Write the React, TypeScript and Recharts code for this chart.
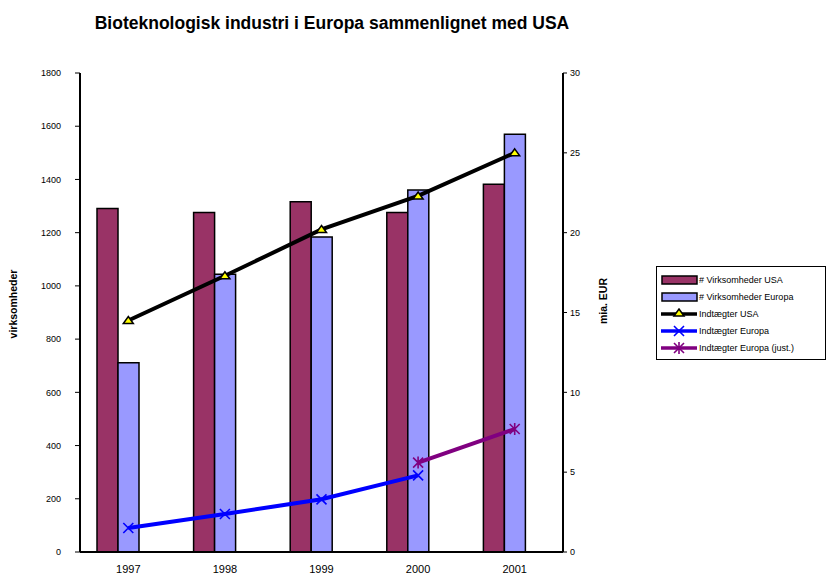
import React from "react";
import {
  ComposedChart,
  Bar,
  Line,
  XAxis,
  YAxis,
  Legend,
} from "recharts";

const years = ["1997", "1998", "1999", "2000", "2001"];
const firmsUSA = [1291, 1276, 1316, 1276, 1382];
const firmsEurope = [711, 1044, 1184, 1360, 1570];
const revenueUSA = [14.5, 17.3, 20.2, 22.3, 25.0];
const revenueEurope = [1.5, 2.38, 3.3, 4.8, null];
const revenueEuropeAdj = [null, null, null, 5.6, 7.7];

const leftTicks = [0, 200, 400, 600, 800, 1000, 1200, 1400, 1600, 1800];
const rightTicks = [0, 5, 10, 15, 20, 25, 30];
const boundaryTicks = [0, 1, 2, 3, 4, 5];

const data = years.map((year, i) => ({
  year,
  firmsUSA: firmsUSA[i],
  firmsEurope: firmsEurope[i],
  empty: null,
  revenueUSA: revenueUSA[i],
  revenueEurope: revenueEurope[i],
  revenueEuropeAdj: revenueEuropeAdj[i],
}));

const FONT = "'Liberation Sans', Arial, sans-serif";
const MAROON = "#993366";
const LILAC = "#9999ff";
const BLUE = "#0000ff";
const PURPLE = "#800080";

const legendItems = [
  { label: "# Virksomheder USA", kind: "bar", color: MAROON },
  { label: "# Virksomheder Europa", kind: "bar", color: LILAC },
  { label: "Indtægter USA", kind: "triangle", color: "#000000" },
  { label: "Indtægter Europa", kind: "cross", color: BLUE },
  { label: "Indtægter Europa (just.)", kind: "star", color: PURPLE },
];

function Triangle(props: any) {
  const { cx, cy } = props;
  if (cx == null || cy == null) return null;
  return (
    <path
      d={`M${cx},${cy - 4} L${cx + 5},${cy + 3} L${cx - 5},${cy + 3} Z`}
      fill="#ffff00"
      stroke="#000"
      strokeWidth={1.5}
    />
  );
}

function Cross(props: any) {
  const { cx, cy, color } = props;
  if (cx == null || cy == null) return null;
  const s = 5;
  return (
    <path
      d={`M${cx - s},${cy - s} L${cx + s},${cy + s} M${cx - s},${cy + s} L${cx + s},${cy - s}`}
      stroke={color}
      strokeWidth={1.6}
      fill="none"
    />
  );
}

function Star(props: any) {
  const { cx, cy, color } = props;
  if (cx == null || cy == null) return null;
  const s = 5;
  return (
    <path
      d={`M${cx - s},${cy - s} L${cx + s},${cy + s} M${cx - s},${cy + s} L${cx + s},${cy - s} M${cx},${cy - s - 1} L${cx},${cy + s + 1}`}
      stroke={color}
      strokeWidth={1.6}
      fill="none"
    />
  );
}

function LegendBox() {
  return (
    <div
      style={{
        width: 170,
        border: "1px solid #000",
        background: "#fff",
        fontFamily: FONT,
        fontSize: 9,
        padding: "4px 0 3px 4px",
        boxSizing: "border-box",
      }}
    >
      {legendItems.map((item) => (
        <div
          key={item.label}
          style={{ display: "flex", alignItems: "center", height: 17 }}
        >
          <svg width={38} height={12} style={{ flex: "none" }}>
            {item.kind === "bar" ? (
              <rect
                x={1}
                y={2}
                width={35}
                height={8}
                fill={item.color}
                stroke="#000"
                strokeWidth={1.5}
              />
            ) : (
              <>
                <line
                  x1={0}
                  y1={6}
                  x2={36}
                  y2={6}
                  stroke={item.color}
                  strokeWidth={3.5}
                />
                {item.kind === "triangle" && <Triangle cx={18} cy={5} />}
                {item.kind === "cross" && (
                  <Cross cx={18} cy={6} color={item.color} />
                )}
                {item.kind === "star" && (
                  <Star cx={18} cy={6} color={item.color} />
                )}
              </>
            )}
          </svg>
          <span style={{ whiteSpace: "nowrap" }}>{item.label}</span>
        </div>
      ))}
    </div>
  );
}

const tickStyle = { fontSize: 9, fill: "#000", fontFamily: FONT };

export default function App() {
  return (
    <div
      style={{
        position: "absolute",
        left: 0,
        top: 0,
        width: 829,
        height: 574,
        background: "#fff",
        overflow: "hidden",
        fontFamily: FONT,
      }}
    >
      <div
        style={{
          position: "absolute",
          left: 0,
          width: 664,
          top: 13,
          textAlign: "center",
          fontWeight: "bold",
          fontSize: 17.5,
        }}
      >
        Bioteknologisk industri i Europa sammenlignet med USA
      </div>
      <ComposedChart
        width={829}
        height={574}
        data={data}
        margin={{ top: 73, right: 56, bottom: 0, left: 40 }}
        barGap={0}
        barCategoryGap={17}
      >
        <XAxis
          xAxisId="top"
          orientation="top"
          dataKey="year"
          height={0}
          tick={false}
          tickLine={false}
          axisLine={{ stroke: "#000", strokeWidth: 2 }}
        />
        <XAxis
          dataKey="year"
          height={22}
          tickLine={false}
          tickMargin={7}
          axisLine={{ stroke: "#000", strokeWidth: 2 }}
          tick={{ ...tickStyle, fontSize: 11 }}
        />
        <XAxis
          xAxisId="bounds"
          type="number"
          domain={[0, 5]}
          ticks={boundaryTicks}
          height={0}
          tick={false}
          tickSize={5}
          axisLine={false}
          tickLine={{ stroke: "#000", strokeWidth: 1 }}
        />
        <YAxis
          yAxisId="left"
          domain={[0, 1800]}
          ticks={leftTicks}
          width={40}
          tickSize={5}
          tickMargin={14}
          interval={0}
          axisLine={{ stroke: "#000", strokeWidth: 2 }}
          tickLine={{ stroke: "#000" }}
          tick={tickStyle}
          label={{
            content: (p: any) => {
              const vb = p.viewBox;
              const cy = 304;
              return (
                <text
                  x={vb.x - 23}
                  y={cy}
                  transform={`rotate(-90 ${vb.x - 23} ${cy})`}
                  textAnchor="middle"
                  style={{ fontFamily: FONT, fontSize: 10.5, fontWeight: "bold" }}
                >
                  virksomheder
                </text>
              );
            },
          }}
        />
        <YAxis
          yAxisId="right"
          orientation="right"
          domain={[0, 30]}
          ticks={rightTicks}
          width={40}
          tickSize={4}
          tickMargin={3}
          interval={0}
          axisLine={{ stroke: "#000", strokeWidth: 2 }}
          tickLine={{ stroke: "#000" }}
          tick={tickStyle}
          label={{
            content: (p: any) => {
              const vb = p.viewBox;
              const cx = vb.x + 44;
              const cy = 301;
              return (
                <text
                  x={cx}
                  y={cy}
                  transform={`rotate(-90 ${cx} ${cy})`}
                  textAnchor="middle"
                  style={{ fontFamily: FONT, fontSize: 10.5, fontWeight: "bold" }}
                >
                  mia. EUR
                </text>
              );
            },
          }}
        />
        <Legend
          layout="horizontal"
          verticalAlign="middle"
          align="right"
          wrapperStyle={{ left: 656, top: 266, width: 170 }}
          content={() => <LegendBox />}
        />
        <Bar
          yAxisId="left"
          dataKey="firmsUSA"
          name="# Virksomheder USA"
          fill={MAROON}
          stroke="#000"
          strokeWidth={1.5}
          barSize={21}
          isAnimationActive={false}
        />
        <Bar
          yAxisId="left"
          dataKey="firmsEurope"
          name="# Virksomheder Europa"
          fill={LILAC}
          stroke="#000"
          strokeWidth={1.5}
          barSize={21}
          isAnimationActive={false}
        />
        <Bar
          yAxisId="left"
          dataKey="empty"
          legendType="none"
          fill="none"
          barSize={21}
          isAnimationActive={false}
        />
        <Line
          yAxisId="right"
          dataKey="revenueUSA"
          name="Indtægter USA"
          stroke="#000"
          strokeWidth={4}
          dot={<Triangle />}
          activeDot={false}
          isAnimationActive={false}
        />
        <Line
          yAxisId="right"
          dataKey="revenueEurope"
          name="Indtægter Europa"
          stroke={BLUE}
          strokeWidth={4}
          dot={<Cross color={BLUE} />}
          activeDot={false}
          isAnimationActive={false}
        />
        <Line
          yAxisId="right"
          dataKey="revenueEuropeAdj"
          name="Indtægter Europa (just.)"
          stroke={PURPLE}
          strokeWidth={4}
          dot={<Star color={PURPLE} />}
          activeDot={false}
          isAnimationActive={false}
        />
      </ComposedChart>
    </div>
  );
}
